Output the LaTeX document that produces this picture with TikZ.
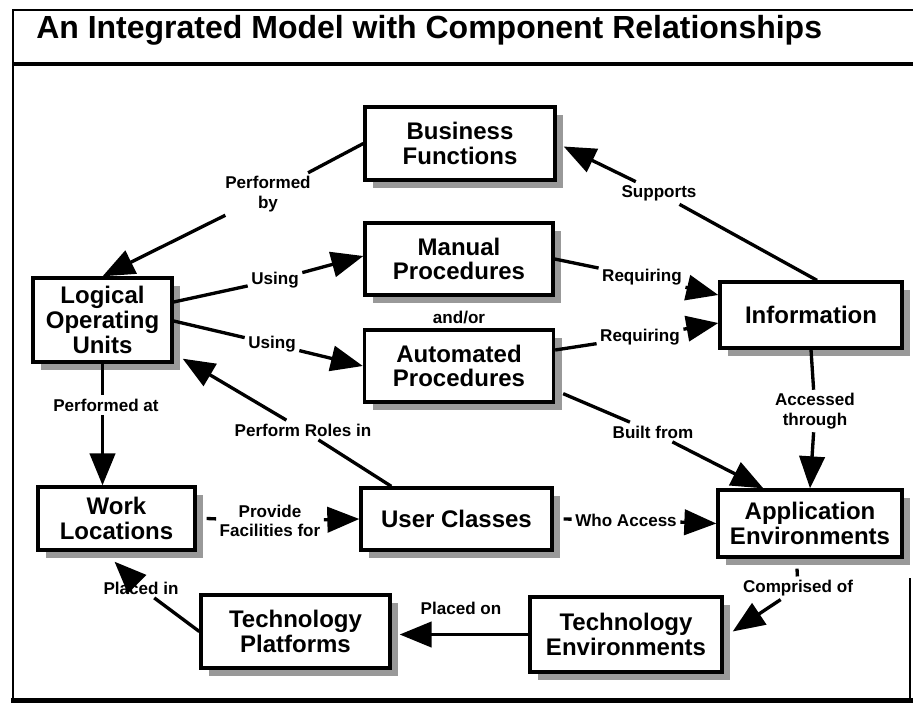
\documentclass[tikz,border=0pt]{standalone}
\usepackage{fontspec}
\setmainfont{Liberation Sans}
\usetikzlibrary{arrows.meta,calc,shadows}
\begin{document}
\begin{tikzpicture}[x=0.75pt,y=-0.75pt,
  box/.style={draw, line width=2.5pt, fill=white, align=center,
    font=\fontsize{18}{18.5}\selectfont\bfseries, inner sep=0pt,
    drop shadow={shadow xshift=6pt,shadow yshift=-6pt,fill=black!40,opacity=1}},
  sz/.style 2 args={minimum width=#1*0.75pt, minimum height=#2*0.75pt},
  lab/.style={align=center, font=\fontsize{12.8}{14.5}\selectfont\bfseries, inner sep=2.5pt},
  con/.style={line width=2.5pt},
  arr/.style={con, -{Triangle[length=24pt,width=19pt]}},
]
\useasboundingbox (0,0) rectangle (913,710);
% frame
\draw[line width=1.5pt] (13,700) -- (13,10) -- (913,10);
\draw[line width=3pt] (13,64) -- (913,64);
\draw[line width=3.75pt] (11,700) -- (913,700);
\draw[line width=1.2pt] (910,578) -- (910,700);
\node[anchor=base west, font=\fontsize{24}{28}\selectfont\bfseries, inner sep=0pt] (title) at (36,39) {An Integrated Model with Component Relationships};
% boxes
\node[box,sz={190}{73}] (bf) at (460,143.5) {Business\\Functions};
\node[box,sz={188}{72}] (mp) at (459,259) {Manual\\Procedures};
\node[box,sz={189}{72}] (ap) at (459,366) {Automated\\Procedures};
\node[box,sz={139}{84}] (lou) at (102.5,320) {Logical\\Operating\\Units};
\node[box,sz={182}{66}] (info) at (811,315) {Information};
\node[box,sz={157}{63}] (wl) at (116.5,518.5) {Work\\Locations};
\node[box,sz={191}{62}] (uc) at (456.5,519) {User Classes};
\node[box,sz={184}{67}] (ae) at (810,523.5) {Application\\Environments};
\node[box,sz={189}{73}] (tp) at (295.5,631.5) {Technology\\Platforms};
\node[box,sz={192}{75}] (te) at (626,634.5) {Technology\\Environments};
% labels
\node[lab] (pb) at (268,194) {Performed\\by};
\node[lab] (u1) at (275,280) {Using};
\node[lab] (u2) at (272,344) {Using};
\node[lab] (ao) at (459,317) {and/or};
\node[lab] (r1) at (642,277) {Requiring};
\node[lab] (r2) at (640,337) {Requiring};
\node[lab] (sp) at (659,193) {Supports};
\node[lab] (at) at (815,411) {Accessed\\through};
\node[lab] (bfm) at (653,432) {Built from};
\node[lab] (pa) at (106,405) {Performed at};
\node[lab] (pr) at (303,430) {Perform Roles in};
\node[lab] (pf) at (270,521) {Provide\\Facilities for};
\node[lab] (wa) at (626,520) {Who Access};
\node[lab] (co) at (798,588) {Comprised of};
\node[lab] (pon) at (461,608) {Placed on};
\node[lab] (pin) at (141,588) {Placed in};
% connectors
\draw[con] (bf.west) -- (pb);
\draw[arr] (pb) -- (lou.north);
\draw[con] ($(lou.east)+(0,-18)$) -- (u1);
\draw[arr] (u1) -- ($(mp.west)+(0,-3)$);
\draw[con] ($(lou.east)+(0,1)$) -- (u2);
\draw[arr] (u2) -- (ap.west);
\draw[con] (mp.east) -- (r1);
\draw[arr] (r1) -- ($(info.west)+(0,-20)$);
\draw[con] ($(ap.east)+(0,-16)$) -- (r2);
\draw[arr] (r2) -- ($(info.west)+(0,8)$);
\draw[con] ($(info.north)+(6,0)$) -- (sp);
\draw[arr] (sp) -- ($(bf.east)+(7,3)$);
\draw[con] (info.south) -- (at);
\draw[arr] (at) -- (ae.north);
\draw[con] ($(ap.south east)+(8,-10)$) -- (bfm);
\draw[arr] (bfm) -- ($(ae.north west)+(47,0)$);
\draw[con] ($(uc.north west)+(32,0)$) -- (pr);
\draw[arr] (pr) -- ($(lou.south east)+(9,-5)$);
\draw[con] (lou.south) -- (lou.south |- pa.north);
\draw[arr] (lou.south |- pa.south) -- (lou.south |- wl.north);
\draw[con] ($(wl.east)+(10,0)$) -- (pf);
\draw[arr] (pf) -- (uc.west);
\draw[con] ($(uc.east)+(10,0)$) -- (wa);
\draw[arr] (wa) -- (ae.west);
\draw[con] ($(ae.south)+(-13,10)$) -- (co);
\draw[arr] (co) -- ($(te.east)+(9,-3)$);
\draw[arr] (te.west) -- ($(te.west -| tp.east)+(8,0)$);
\draw[con] (tp.west) -- (pin);
\draw[arr] (pin) -- ($(wl.south)+(-2,10)$);
\end{tikzpicture}
\end{document}
